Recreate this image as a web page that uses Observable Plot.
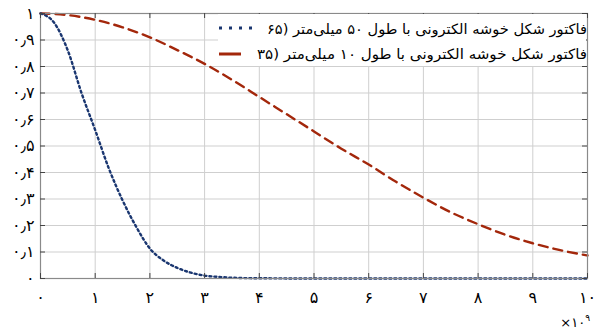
<!DOCTYPE html>
<html><head><meta charset="utf-8">
<script src="https://cdn.jsdelivr.net/npm/d3@7"></script>
<script src="https://cdn.jsdelivr.net/npm/@observablehq/plot@0.6"></script>
<style>body{margin:0;background:#fff;} svg{font-family:"DejaVu Sans",sans-serif;}</style>
</head><body><div id="chart"></div>
<script>
// Series 1: 50 mm bunch (blue dotted)
const blueX = [0,0.25,0.5,0.75,1,1.25,1.5,1.75,2,2.25,2.5,2.75,3,3.25,3.5,3.75,4,5,6,7,8,9,10];
const blueY = [1,0.965,0.86,0.70,0.56,0.415,0.295,0.195,0.113,0.068,0.04,0.022,0.011,0.006,0.003,0.0015,0.001,0,0,0,0,0,0];
// Series 2: 10 mm bunch (red dashed)
const redX = [0,0.5,1,1.5,2,2.5,3,3.5,4,4.5,5,5.5,6,6.5,7,7.5,8,8.5,9,9.5,10];
const redY = [1,0.994,0.976,0.948,0.91,0.862,0.81,0.75,0.685,0.62,0.555,0.49,0.43,0.365,0.305,0.25,0.205,0.165,0.133,0.107,0.087];
// Tick labels
const xTicks = [0,1,2,3,4,5,6,7,8,9,10];
const xTickLabels = ["۰","۱","۲","۳","۴","۵","۶","۷","۸","۹","۱۰"];
const yTicks = [0,0.1,0.2,0.3,0.4,0.5,0.6,0.7,0.8,0.9,1];
const yTickLabels = ["۰","۰٫۱","۰٫۲","۰٫۳","۰٫۴","۰٫۵","۰٫۶","۰٫۷","۰٫۸","۰٫۹","۱"];
const legendLabels = [
  "فاکتور شکل خوشه الکترونی با طول ۵۰ میلی‌متر (۶۵",
  "فاکتور شکل خوشه الکترونی با طول ۱۰ میلی‌متر (۳۵"
];
const exponentBase = "×۱۰";
const exponentPower = "۹";

const blue = blueX.map((x,i)=>({x, y: blueY[i]}));
const red = redX.map((x,i)=>({x, y: redY[i]}));
const BLUE = "#1a3670", RED = "#a3270b";

const chart = Plot.plot({
  width: 596, height: 332,
  marginLeft: 40, marginRight: 9, marginTop: 13, marginBottom: 54,
  style: {fontFamily: "DejaVu Sans, sans-serif", fontSize: "16px", color: "#000", background: "#fff"},
  x: {domain: [0,10], label: null},
  y: {domain: [0,1], label: null},
  marks: [
    Plot.gridX(xTicks, {stroke: "#cfcfcf", strokeOpacity: 1}),
    Plot.gridY(yTicks, {stroke: "#cfcfcf", strokeOpacity: 1}),
    Plot.line(red, {x: "x", y: "y", stroke: RED, strokeWidth: 2.4, strokeDasharray: "9,6", curve: "monotone-x"}),
    Plot.line(blue, {x: "x", y: "y", stroke: BLUE, strokeWidth: 2.4, strokeDasharray: "2,3", curve: "monotone-x"}),
    Plot.frame({stroke: "#8a8a8a", strokeWidth: 1.2}),
    Plot.ruleX(xTicks, {y1: 0, y2: 0, insetBottom: 5, stroke: "#444"}),
    Plot.ruleX(xTicks, {y1: 1, y2: 1, insetBottom: -5, stroke: "#444"}),
    Plot.ruleY(yTicks, {x1: 0, x2: 0, insetRight: -5, stroke: "#444"}),
    Plot.ruleY(yTicks, {x1: 10, x2: 10, insetRight: 5, stroke: "#444"}),
    Plot.axisX(xTicks, {label: null, tickSize: 0, tickPadding: 13, tickFormat: (d)=>xTickLabels[xTicks.indexOf(d)], fontSize: 16}),
    Plot.axisY(yTicks, {label: null, tickSize: 0, tickPadding: 6, tickFormat: (d)=>yTickLabels[yTicks.indexOf(d)], fontSize: 16})
  ]
});
document.getElementById("chart").appendChild(chart);

// Legend overlay
const svg = d3.select(chart);
const lg = svg.append("g");
lg.append("rect").attr("x", 218).attr("y", 14).attr("width", 368).attr("height", 52).attr("fill", "#fff");
lg.append("line").attr("x1", 219).attr("x2", 256).attr("y1", 28).attr("y2", 28)
  .attr("stroke", BLUE).attr("stroke-width", 3).attr("stroke-dasharray", "3,7");
lg.append("line").attr("x1", 219).attr("x2", 241).attr("y1", 54).attr("y2", 54)
  .attr("stroke", RED).attr("stroke-width", 3);
legendLabels.forEach((t,i)=>{
  lg.append("text").attr("x", 587).attr("y", 29 + i*25).attr("dy", "0.35em")
    .attr("text-anchor", "start").attr("direction", "rtl")
    .attr("font-size", 14).attr("textLength", i === 0 ? 320 : 330).attr("lengthAdjust", "spacingAndGlyphs")
    .attr("fill", "#000").text(t);
});
// exponent label
const ex = svg.append("text").attr("x", 590).attr("y", 327).attr("text-anchor", "end")
  .attr("font-size", 13).attr("fill", "#000").attr("direction", "ltr");
ex.append("tspan").text(exponentBase);
ex.append("tspan").attr("font-size", 9).attr("dy", -6).text(exponentPower);
</script>
</body></html>
